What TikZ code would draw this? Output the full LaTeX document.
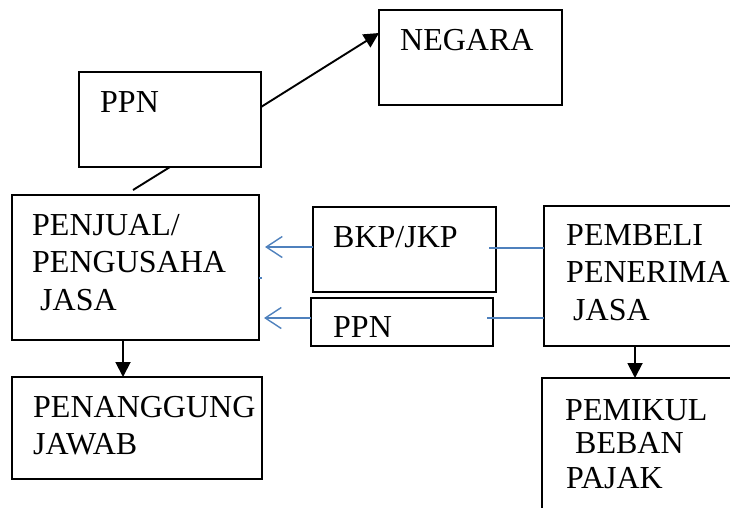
\documentclass[tikz,border=0pt]{standalone}
\usepackage{fontspec}
\setmainfont{Liberation Serif}
\usetikzlibrary{arrows.meta,calc}
\definecolor{wordblue}{RGB}{79,129,189}
\tikzset{
  box/.style={draw=black, line width=1.8pt, inner sep=0pt, outer sep=0pt, anchor=north west},
  txt/.style={font=\fontsize{32}{38}\selectfont, inner sep=0pt, anchor=base west},
  blk/.style={draw=black, line width=1.9pt},
  blkarrow/.style={blk, -{Triangle[length=15pt,width=15pt]}},
  bluearrow/.style={draw=wordblue, line width=1.4pt, -{Straight Barb[length=16pt,width=21pt,line width=1.4pt]}},
  blueline/.style={draw=wordblue, line width=1.4pt}
}
\begin{document}
\begin{tikzpicture}[x=1pt,y=-1pt]
\clip (0,0) rectangle (730,507);
\useasboundingbox (0,0) rectangle (730,507);
% boxes
\node[box, minimum width=183pt, minimum height=95pt] (negara) at (379,10) {};
\node[box, minimum width=182pt, minimum height=95pt] (ppntop) at (79,72) {};
\node[box, minimum width=247pt, minimum height=145pt] (penjual) at (12,195) {};
\node[box, minimum width=250pt, minimum height=102pt] (tanggung) at (12,377) {};
\node[box, minimum width=183pt, minimum height=85pt] (bkp) at (313,207) {};
\node[box, minimum width=182pt, minimum height=48pt] (ppnmid) at (311,298) {};
\node[box, minimum width=200pt, minimum height=140pt] (pembeli) at (544,206) {};
\node[box, minimum width=200pt, minimum height=150pt] (pemikul) at (542,378) {};
% texts
\node[txt] (tnegara) at (400,50) {NEGARA};
\node[txt] (tppntop) at (100,112) {PPN};
\node[txt] (tpj1) at (32,235) {PENJUAL/};
\node[txt] (tpj2) at (32,272) {PENGUSAHA};
\node[txt] (tpj3) at (40,310) {JASA};
\node[txt] (ttg1) at (33,417) {PENANGGUNG};
\node[txt] (ttg2) at (33,454) {JAWAB};
\node[txt] (tbkp) at (333,247) {BKP/JKP};
\node[txt] (tppnmid) at (333,337) {PPN};
\node[txt] (tpb1) at (566,245) {PEMBELI};
\node[txt] (tpb2) at (566,282) {PENERIMA};
\node[txt] (tpb3) at (573,320) {JASA};
\node[txt] (tpk1) at (565,420) {PEMIKUL};
\node[txt] (tpk2) at (575,453) {BEBAN};
\node[txt] (tpk3) at (566,488) {PAJAK};
% black connectors
\draw[blkarrow] ([yshift=12.5pt]ppntop.east) -- ([yshift=24.5pt]negara.west);
\draw[blk] (ppntop.south) -- ([xshift=-2.5pt,yshift=5pt]penjual.north);
\draw[blkarrow] ([xshift=-12.5pt]penjual.south) -- ([xshift=-12.5pt]penjual.south |- tanggung.north);
\coordinate (pbs) at ([xshift=-9pt]pembeli.south);
\draw[blkarrow] (pbs) -- (pbs |- pemikul.north);
% blue connectors
\coordinate (a1) at ([xshift=6pt]penjual.east |- 0,247);
\coordinate (a2) at ([xshift=5pt]penjual.east |- 0,318);
\draw[bluearrow] (bkp.west |- a1) -- (a1);
\draw[bluearrow] (ppnmid.west |- a2) -- (a2);
\draw[blueline] ([xshift=-7pt]bkp.east |- 0,248) -- (pembeli.west |- 0,248);
\draw[blueline] ([xshift=-6pt]ppnmid.east |- 0,318) -- (pembeli.west |- 0,318);
\draw[blueline] (penjual.east |- 0,278) -- ++(2.5pt,0);
\end{tikzpicture}
\end{document}
